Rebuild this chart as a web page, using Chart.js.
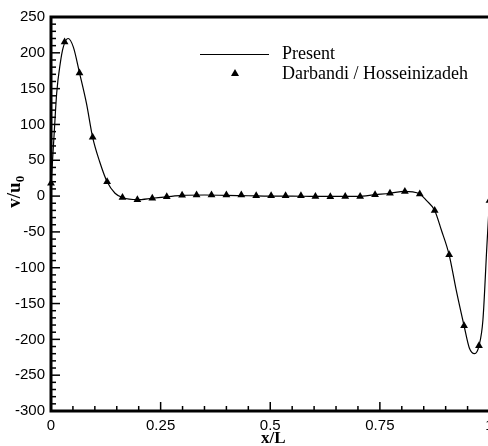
<!DOCTYPE html>
<html>
<head>
<meta charset="utf-8">
<script src="https://cdn.jsdelivr.net/npm/chart.js@4.4.0/dist/chart.umd.min.js"></script>
<style>
  html, body { margin: 0; padding: 0; background: #fff; overflow: hidden; }
  #wrap { width: 500px; height: 446px; }
</style>
</head>
<body>
<div id="wrap"><canvas id="profileChart" width="500" height="446"></canvas></div>
<script>
// Present (solid line)
const presentX = [0, 0.007, 0.013, 0.021, 0.028, 0.039, 0.051, 0.065, 0.081, 0.095, 0.111, 0.128, 0.146, 0.163,
  0.197, 0.231, 0.264, 0.3, 0.35, 0.4, 0.45, 0.5, 0.55, 0.6, 0.65, 0.7, 0.74, 0.773, 0.807, 0.825, 0.841,
  0.856, 0.875, 0.89, 0.908, 0.924, 0.942, 0.954, 0.966, 0.976, 0.985, 0.994, 1.0];
const presentV = [15, 85, 144, 185, 208, 220, 208, 172, 129, 82, 48, 20, 4, -2,
  -5, -3, -1, 1, 1.5, 1, 0.5, 0, 0, -0.5, -0.5, -0.5, 2, 4, 6.5, 6, 3,
  -6, -20, -47, -82, -131, -181, -212, -220, -209, -173, -70, -5];

// Darbandi / Hosseinizadeh (triangles)
const refX = [0, 0.031, 0.065, 0.095, 0.128, 0.163, 0.197, 0.231, 0.264, 0.299, 0.332, 0.366, 0.4, 0.434,
  0.468, 0.502, 0.535, 0.57, 0.603, 0.637, 0.671, 0.705, 0.739, 0.773, 0.807, 0.841, 0.875, 0.908, 0.942,
  0.976, 1.0];
const refV = [18, 215, 172, 82, 20, -2, -5, -3, -1, 1, 1.5, 1.5, 1.5, 1.5,
  0.5, 0.5, 0.5, 0.5, -0.5, -1, -0.5, -0.5, 2, 4, 6.5, 3, -20, -82, -181,
  -209, -6];

const xTicks = [0, 0.25, 0.5, 0.75, 1];
const yTicks = [-300, -250, -200, -150, -100, -50, 0, 50, 100, 150, 200, 250];

const toPoints = (xs, vs) => xs.map((x, i) => ({ x: x, y: vs[i] }));

// inward ticks, frame, axis titles and legend
const framePlugin = {
  id: 'framePlugin',
  afterDatasetsDraw(chart) {
    const { ctx, chartArea: a, scales: { x, y } } = chart;
    ctx.save();
    ctx.strokeStyle = '#000';
    ctx.lineWidth = 1.5;
    for (let v = -300; v <= 250; v += 10) {
      const py = y.getPixelForValue(v);
      const len = (v % 50 === 0) ? 9 : 5;
      ctx.beginPath();
      ctx.moveTo(a.left, py);
      ctx.lineTo(a.left + len, py);
      ctx.stroke();
    }
    for (let i = 0; i <= 20; i++) {
      const px = x.getPixelForValue(i * 0.05);
      const len = (i % 5 === 0) ? 9 : 5;
      ctx.beginPath();
      ctx.moveTo(px, a.bottom);
      ctx.lineTo(px, a.bottom - len);
      ctx.stroke();
    }
    ctx.lineWidth = 3;
    ctx.strokeRect(a.left, a.top, a.right - a.left, a.bottom - a.top);

    // axis titles
    ctx.fillStyle = '#000';
    ctx.font = 'bold 17px "Liberation Serif"';
    ctx.textAlign = 'center';
    ctx.textBaseline = 'alphabetic';
    ctx.fillText('x/L', x.getPixelForValue(0.5) + 3, 443);

    ctx.save();
    ctx.translate(20, 190);
    ctx.rotate(-Math.PI / 2);
    ctx.textAlign = 'left';
    ctx.font = 'bold 19px "Liberation Serif"';
    const w = ctx.measureText('v/u').width;
    ctx.fillText('v/u', -w / 2 - 5, 0);
    ctx.font = 'bold 13px "Liberation Serif"';
    ctx.fillText('0', w / 2 - 5, 4);
    ctx.restore();

    // legend
    const ds = chart.data.datasets;
    ctx.lineWidth = 1;
    ctx.beginPath();
    ctx.moveTo(200, 54.5);
    ctx.lineTo(269, 54.5);
    ctx.stroke();
    ctx.beginPath();
    ctx.moveTo(235, 69);
    ctx.lineTo(239, 76);
    ctx.lineTo(231, 76);
    ctx.closePath();
    ctx.fill();
    ctx.font = '18px "Liberation Serif"';
    ctx.textAlign = 'left';
    ctx.fillText(ds[0].label, 282, 58.5);
    ctx.fillText(ds[1].label, 282, 79);
    ctx.restore();
  }
};

new Chart(document.getElementById('profileChart'), {
  type: 'scatter',
  data: {
    datasets: [{
      label: 'Present',
      data: toPoints(presentX, presentV),
      showLine: true,
      borderColor: '#000',
      borderWidth: 1.2,
      pointRadius: 0,
      cubicInterpolationMode: 'monotone'
    }, {
      label: 'Darbandi / Hosseinizadeh',
      data: toPoints(refX, refV),
      showLine: false,
      pointStyle: 'triangle',
      pointRadius: 4.5,
      backgroundColor: '#000',
      borderColor: '#000',
      borderWidth: 0,
      clip: false
    }]
  },
  options: {
    responsive: false,
    animation: false,
    layout: { padding: { top: 17, right: 10.5, left: 0, bottom: 0 } },
    plugins: { legend: { display: false }, tooltip: { enabled: false } },
    scales: {
      x: {
        type: 'linear', min: 0, max: 1,
        afterBuildTicks: s => { s.ticks = xTicks.map(v => ({ value: v })); },
        afterFit: s => { s.height = 35; s.paddingLeft = 0; s.paddingRight = 0; },
        grid: { display: false, drawTicks: false },
        border: { display: false },
        ticks: { color: '#000', padding: 6, callback: v => String(v),
                 font: { family: '"Liberation Sans"', size: 15 } }
      },
      y: {
        type: 'linear', min: -300, max: 250,
        afterBuildTicks: s => { s.ticks = yTicks.map(v => ({ value: v })); },
        afterFit: s => { s.width = 51; s.paddingTop = 0; s.paddingBottom = 0; },
        grid: { display: false, drawTicks: false },
        border: { display: false },
        ticks: { color: '#000', padding: 6, callback: v => String(v),
                 font: { family: '"Liberation Sans"', size: 15 } }
      }
    }
  },
  plugins: [framePlugin]
});
</script>
</body>
</html>
